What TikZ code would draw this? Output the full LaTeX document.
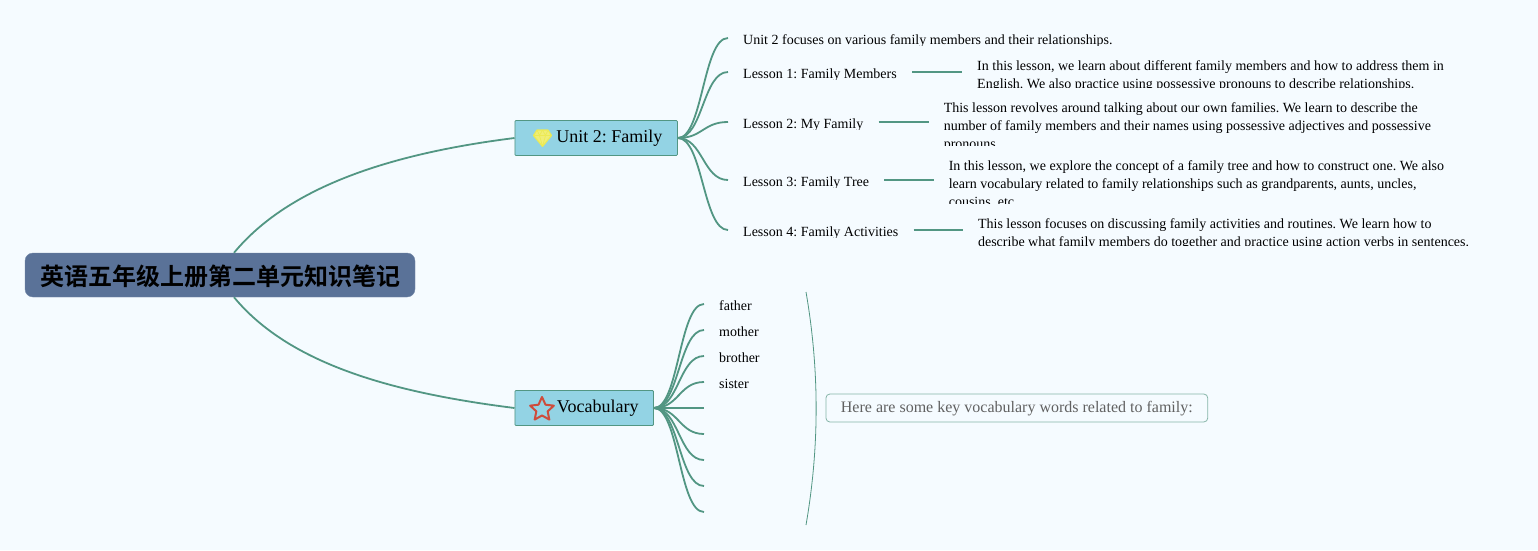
\documentclass[tikz,border=0pt]{standalone}
\usepackage{fontspec}
\setmainfont{Liberation Serif}
\newfontfamily\cjkfont{Noto Sans CJK SC}[BoldFont={Noto Sans CJK SC Bold}]
\usetikzlibrary{positioning, shapes.geometric}
\definecolor{pagebg}{RGB}{245,251,255}
\definecolor{mapgreen}{RGB}{82,150,131}
\definecolor{rootblue}{RGB}{90,114,152}
\definecolor{skyblue}{RGB}{147,211,228}
\definecolor{starred}{RGB}{206,76,60}
\definecolor{gemyellow}{RGB}{236,234,84}
\frenchspacing

\begin{document}
\begin{tikzpicture}[
		x=1pt, y=-1pt,
		root/.style={draw=rootblue!85!white, fill=rootblue, rounded corners=8pt,
			minimum width=390pt, minimum height=44pt, text height=21pt, text depth=1pt,
			font=\cjkfont\bfseries\fontsize{24}{28}\selectfont},
		branch/.style={draw=mapgreen, fill=skyblue, rounded corners=1pt, line width=0.8pt,
			minimum height=35pt, inner xsep=15pt, font=\fontsize{18}{22}\selectfont},
		lesson/.style={inner xsep=15pt, inner ysep=0pt, text height=14pt, text depth=2pt,
			font=\fontsize{14}{18}\selectfont},
		detail/.style={inner xsep=15pt, inner ysep=0pt, align=left, font=\fontsize{14}{18}\selectfont},
		link/.style={draw=mapgreen, line width=1.8pt},
		summary/.style={draw=mapgreen!70!white, fill=pagebg, rounded corners=4pt, line width=0.8pt,
			minimum height=28pt, inner xsep=15pt, text height=10pt, text depth=1pt, text=black!62,
			font=\fontsize{16}{20}\selectfont},
		node distance=50pt
	]
		\useasboundingbox (0,0) rectangle (1538,550);
		\fill[pagebg] (0,0) rectangle (1538,550);

		\node[root] (title) at (220,275) {英语五年级上册第二单元知识笔记};
		\node[branch, anchor=west] (unit) at (514.5,138) {\hspace*{26.5pt}Unit 2: Family};
		\node[branch, anchor=west] (vocab) at (514.5,408) {\hspace*{27pt}Vocabulary};

		\draw[link] ([xshift=14pt]title.north) .. controls (290,185) and (395,153) .. (unit.west);
		\draw[link] ([xshift=14pt]title.south) .. controls (290,365) and (395,393) .. (vocab.west);

		% every text of the lesson rows is cut off at the bottom
		\begin{scope}
			\clip (728,25) rectangle (1490,45.5)
				(728,55) rectangle (962,79.5) (962,55) rectangle (1490,87)
				(728,100) rectangle (930,129.5) (930,100) rectangle (1490,145)
				(728,158) rectangle (935,187.5) (935,158) rectangle (1490,203)
				(728,216) rectangle (965,237.5) (965,216) rectangle (1490,245);
			\node[lesson, anchor=west] (intro) at (728,38) {Unit 2 focuses on various family members and their relationships.};
			\node[lesson, anchor=west] (one) at (728,72) {Lesson 1: Family Members};
			\node[lesson, anchor=west] (two) at (728,122) {Lesson 2: My Family};
			\node[lesson, anchor=west] (three) at (728,180) {Lesson 3: Family Tree};
			\node[lesson, anchor=west] (four) at (728,230) {Lesson 4: Family Activities};
			\node[detail, right=of one, yshift=-4pt] (onetext) {In this lesson, we learn about different family members and how to address them in\\English. We also practice using possessive pronouns to describe relationships.};
			\node[detail, right=of two, yshift=-5pt] (twotext) {This lesson revolves around talking about our own families. We learn to describe the\\number of family members and their names using possessive adjectives and possessive\\pronouns.};
			\node[detail, right=of three, xshift=-0.7pt, yshift=-5pt] (threetext) {In this lesson, we explore the concept of a family tree and how to construct one. We also\\learn vocabulary related to family relationships such as grandparents, aunts, uncles,\\cousins, etc.};
			\node[detail, right=of four, xshift=-0.7pt, yshift=-4pt] (fourtext) {This lesson focuses on discussing family activities and routines. We learn how to\\describe what family members do together and practice using action verbs in sentences.};
		\end{scope}

		\foreach \a in {intro,one,two,three,four}
			\draw[link] (unit.east) .. controls +(25,0) and +(-25,0) .. (\a.west);
		\foreach \a/\b in {one/onetext,two/twotext,three/threetext,four/fourtext}
			\draw[link] (\a.east) -- (\a.east -| \b.west);

		\foreach \i/\y/\w in {1/304/father,2/330/mother,3/356/brother,4/382/sister,5/408/,6/434/,7/460/,8/486/,9/512/} {
			\node[lesson, anchor=west] (word\i) at (704,\y) {\w};
			\draw[link] (vocab.east) .. controls +(25,0) and +(-25,0) .. (word\i.west);
		}

		\node[summary, anchor=west] (note) at (825.5,408) {Here are some key vocabulary words related to family:};
		\coordinate (notetop) at (806,292);
		\coordinate (notebottom) at (806,525);
		\draw[draw=mapgreen, line width=0.8pt] (notetop) .. controls (819.5,370) and (819.5,447) .. (notebottom);

		\node[star, star points=5, star point ratio=2.1, draw=starred, line width=2pt, line join=round,
			inner sep=0pt, minimum size=25pt] (staricon) at ([xshift=27.5pt,yshift=-1.5pt]vocab.west) {};
		\begin{scope}[shift={([xshift=28pt]unit.west)}, draw=gemyellow, line width=1.1pt, line join=round]
			\draw[fill=gemyellow!80!white] (-5.5,-8) -- (5.5,-8) -- (9,-2.5) -- (0,8.5) -- (-9,-2.5) -- cycle;
			\draw[line width=0.7pt] (-9,-2.5) -- (9,-2.5) (-3,-2.5) -- (0,8.5) -- (3,-2.5)
				(-5.5,-8) -- (-3,-2.5) -- (0,-8) -- (3,-2.5) -- (5.5,-8);
		\end{scope}
	\end{tikzpicture}
\end{document}
